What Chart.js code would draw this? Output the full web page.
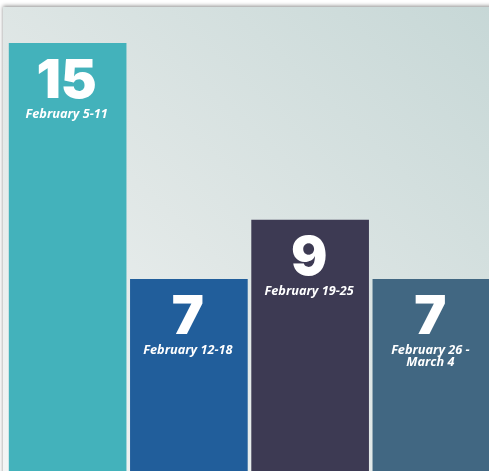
<!DOCTYPE html>
<html>
<head>
<meta charset="utf-8">
<script src="https://cdn.jsdelivr.net/npm/chart.js@4"></script>
<style>
  html, body { margin: 0; padding: 0; background: #fff; overflow: hidden; width: 489px; height: 471px; }
  #frame {
    position: absolute; left: 3px; top: 7px; width: 500px; height: 480px;
    background: linear-gradient(to top right, #f4f6f6 0%, #e0e7e6 45%, #c6d7d6 100%);
    box-shadow: 0 -1px 4px rgba(0,0,0,0.45);
  }
  #chart { position: absolute; left: 0; top: 0; }
</style>
</head>
<body>
<div id="frame"></div>
<canvas id="chart" width="492" height="486"></canvas>
<script>
// weekly counts
var weeks = ['February 5-11', 'February 12-18', 'February 19-25', ['February 26 -', 'March 4']];
var counts = [15, 7, 9, 7];
var barColors = ['#43b2bb', '#215e9b', '#3d3a53', '#416782'];

// draws the big number and the week label inside each bar
var barLabels = {
    id: 'barLabels',
    afterDatasetsDraw: function (chart) {
        var ctx = chart.ctx;
        var meta = chart.getDatasetMeta(0);
        ctx.save();
        ctx.fillStyle = '#ffffff';
        ctx.textAlign = 'center';
        ctx.textBaseline = 'alphabetic';
        meta.data.forEach(function (bar, i) {
            var top = bar.y;
            ctx.font = '900 54px Inter';
            ctx.fillText(String(counts[i]), bar.x - 1, top + 55);
            ctx.font = 'italic bold 12.7px "Open Sans"';
            var lines = [].concat(weeks[i]);
            lines.forEach(function (line, j) {
                ctx.fillText(line, bar.x - 1, top + 75 + j * 12);
            });
        });
        ctx.restore();
    }
};

var ctx = document.getElementById('chart');
new Chart(ctx, {
    type: 'bar',
    data: {
        labels: weeks,
        datasets: [{
            data: counts,
            backgroundColor: barColors,
            borderWidth: 0,
            barThickness: 117,
            categoryPercentage: 1
        }]
    },
    options: {
        responsive: false,
        animation: false,
        devicePixelRatio: 1,
        layout: { padding: { left: 7, right: 0, top: 43, bottom: 0 } },
        plugins: { legend: { display: false }, tooltip: { enabled: false } },
        scales: {
            x: { display: false },
            y: { display: false, min: 0, max: 15 }
        }
    },
    plugins: [barLabels]
});
</script>
</body>
</html>
